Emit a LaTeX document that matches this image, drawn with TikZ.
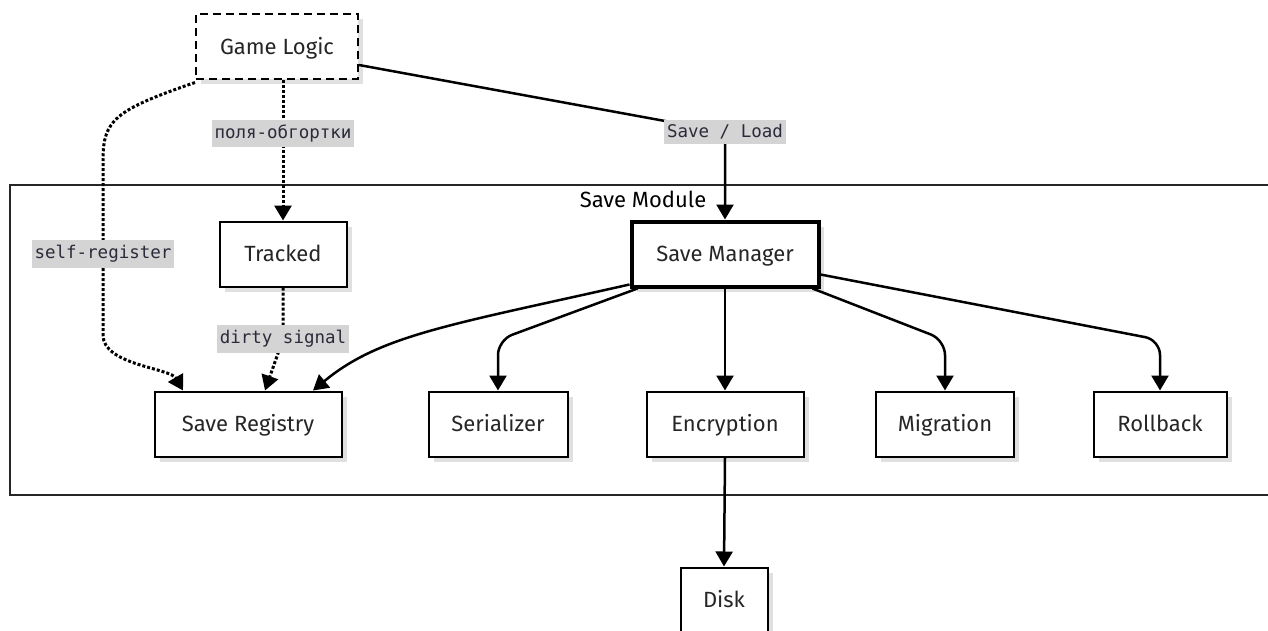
\documentclass[tikz,border=0pt]{standalone}
\usepackage{fontspec}
\setmainfont{Fira Sans}
\newfontfamily\lblfont{DejaVu Sans Mono}
\usetikzlibrary{arrows.meta,shadows}
\definecolor{lblbg}{HTML}{D4D4D4}
\definecolor{lbltx}{HTML}{2A2A3A}
\tikzset{
  box/.style={draw=black, line width=2pt, fill=white, minimum height=65pt, inner sep=0pt,
    font=\fontsize{22}{26}\selectfont, text=black!85, text height=19pt, text depth=4pt,
    drop shadow={shadow xshift=5pt, shadow yshift=-5pt, fill=black!12, opacity=1}},
  lbl/.style={fill=lblbg, text=lbltx, inner xsep=3pt, inner ysep=5pt, font=\lblfont\fontsize{17.5}{20}\selectfont},
  edge/.style={line width=2.5pt, -{Triangle[length=15pt,width=17pt]}},
  dotedge/.style={line width=3pt, dotted, -{Triangle[length=15pt,width=17pt]}},
}
\begin{document}
\begin{tikzpicture}[x=1pt,y=-1pt]
\useasboundingbox (0,0) rectangle (1268,631);
% cluster
\draw[line width=1.2pt, draw=black!85] (10,185) rectangle (1290,495);
\node[font=\fontsize{22}{26}\selectfont] (title) at (643,199) {Save Module};
% nodes
\node[box, minimum width=162pt, dashed, dash pattern=on 8pt off 5pt] (gl) at (277,47) {Game Logic};
\node[box, minimum width=127pt] (tr) at (283,254) {Tracked};
\node[box, minimum width=187pt, line width=4pt] (sm) at (725,254) {Save Manager};
\node[box, minimum width=187pt] (sr) at (248,424) {Save Registry};
\node[box, minimum width=139pt] (ser) at (498,424) {Serializer};
\node[box, minimum width=157pt] (enc) at (725,424) {Encryption};
\node[box, minimum width=138pt] (mig) at (945,424) {Migration};
\node[box, minimum width=133pt] (rb) at (1160,424) {Rollback};
\node[box, minimum width=87pt] (disk) at (724,600) {Disk};
% edges
\draw[edge] ([yshift=-18pt]gl.east) -- (725,132) node[lbl] {Save / Load} -- (sm.north);
\draw[dotedge] (gl.south -| tr.north) -- node[lbl, pos=0.38] {поля-обгортки} (tr.north);
\draw[dotedge] ([yshift=-2pt]gl.south west) .. controls (115,110) and (103,120) .. (103,160) -- (103,254) node[lbl] {self-register} -- (103,335) .. controls (103,365) and (170,368) .. ([xshift=-65pt]sr.north);
\draw[dotedge] (tr.south) -- (283,339) node[lbl] {dirty signal} -- ([xshift=17pt]sr.north);
\draw[edge] ([yshift=4pt]sm.south west) .. controls (450,325) and (380,335) .. ([xshift=65pt]sr.north);
\draw[edge, rounded corners=15pt] ([xshift=8pt]sm.south west) -- (498,340) -- (ser.north);
\draw[edge] (sm.south) -- (enc.north);
\draw[edge, rounded corners=15pt] ([xshift=-8pt]sm.south east) -- (945,340) -- (mig.north);
\draw[edge, rounded corners=15pt] ([yshift=14pt]sm.south east) -- (1160,340) -- (rb.north);
\draw[edge] (enc.south) -- (disk.north);
\end{tikzpicture}
\end{document}
